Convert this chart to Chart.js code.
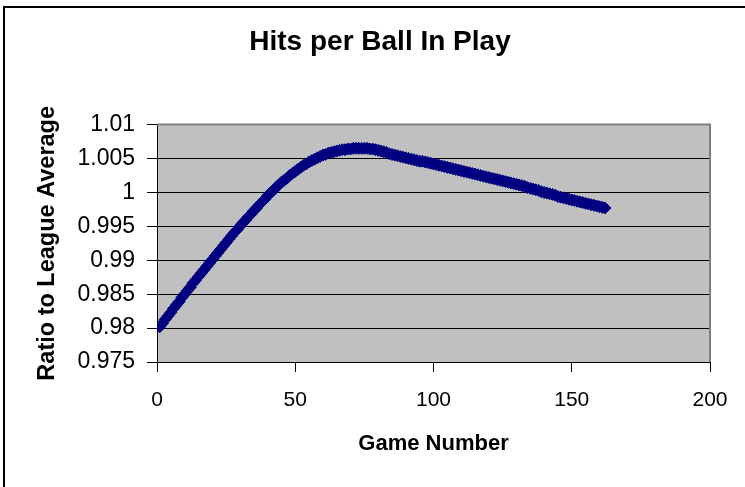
<!DOCTYPE html>
<html>
<head>
<meta charset="utf-8">
<script src="https://cdn.jsdelivr.net/npm/chart.js@4.4.1/dist/chart.umd.min.js"></script>
<style>
  html, body { margin: 0; padding: 0; background: #fff; }
  #wrap { width: 745px; height: 487px; }
</style>
</head>
<body>
<div id="wrap"><canvas id="bipChart" width="745" height="487"></canvas></div>
<script>
// Hits per ball in play, ratio to league average, game by game
const ratios = [
  0.9802, 0.9807, 0.9813, 0.9818, 0.9823, 0.9829, 0.9834, 0.9839, 0.9845, 0.9850,
  0.9855, 0.9860, 0.9866, 0.9871, 0.9876, 0.9881, 0.9886, 0.9891, 0.9896, 0.9901,
  0.9906, 0.9911, 0.9916, 0.9921, 0.9926, 0.9931, 0.9936, 0.9941, 0.9945, 0.9950,
  0.9955, 0.9959, 0.9964, 0.9968, 0.9973, 0.9977, 0.9982, 0.9986, 0.9990, 0.9995,
  0.9999, 1.0003, 1.0007, 1.0011, 1.0015, 1.0018, 1.0021, 1.0025, 1.0028, 1.0031,
  1.0034, 1.0037, 1.0040, 1.0042, 1.0045, 1.0047, 1.0049, 1.0051, 1.0053, 1.0055,
  1.0056, 1.0058, 1.0059, 1.0060, 1.0061, 1.0062, 1.0063, 1.0063, 1.0064, 1.0064,
  1.0065, 1.0065, 1.0065, 1.0065, 1.0065, 1.0065, 1.0064, 1.0064, 1.0063, 1.0062,
  1.0061, 1.0060, 1.0059, 1.0057, 1.0056, 1.0055, 1.0054, 1.0053, 1.0052, 1.0051,
  1.0050, 1.0049, 1.0048, 1.0047, 1.0046, 1.0046, 1.0045, 1.0044, 1.0043, 1.0042,
  1.0041, 1.0040, 1.0039, 1.0038, 1.0037, 1.0036, 1.0035, 1.0034, 1.0033, 1.0032,
  1.0031, 1.0030, 1.0029, 1.0028, 1.0027, 1.0026, 1.0025, 1.0024, 1.0023, 1.0022,
  1.0021, 1.0020, 1.0019, 1.0018, 1.0017, 1.0016, 1.0015, 1.0014, 1.0013, 1.0012,
  1.0011, 1.0010, 1.0009, 1.0007, 1.0006, 1.0005, 1.0004, 1.0003, 1.0001, 1.0000,
  0.9999, 0.9998, 0.9997, 0.9996, 0.9994, 0.9993, 0.9992, 0.9991, 0.9990, 0.9989,
  0.9988, 0.9987, 0.9986, 0.9985, 0.9984, 0.9983, 0.9982, 0.9981, 0.9980, 0.9979,
  0.9978, 0.9977
];
const games = ratios.map((_, i) => i + 1);

const xTicks = [0, 50, 100, 150, 200];
const yTicks = [0.975, 0.98, 0.985, 0.99, 0.995, 1, 1.005, 1.01];

Chart.defaults.font.family = '"Liberation Sans", Arial, sans-serif';
Chart.defaults.color = '#000';

// white page, outer frame and the grey plot area
const plotFrame = {
  id: 'plotFrame',
  beforeDraw(chart) {
    const { ctx, chartArea: a } = chart;
    ctx.save();
    ctx.fillStyle = '#fff';
    ctx.fillRect(0, 0, chart.width, chart.height);
    ctx.strokeStyle = '#000';
    ctx.lineWidth = 2;
    ctx.strokeRect(4, 7, chart.width + 10, chart.height + 10);
    ctx.fillStyle = '#c0c0c0';
    ctx.fillRect(a.left, a.top, a.right - a.left, a.bottom - a.top);
    ctx.restore();
  },
  beforeDatasetsDraw(chart) {
    const { ctx, chartArea: a } = chart;
    ctx.save();
    ctx.strokeStyle = '#808080';
    ctx.lineWidth = 2;
    ctx.beginPath();
    ctx.moveTo(a.left, a.top);
    ctx.lineTo(a.right, a.top);
    ctx.lineTo(a.right, a.bottom);
    ctx.stroke();
    ctx.restore();
  }
};

new Chart(document.getElementById('bipChart'), {
  type: 'scatter',
  data: {
    datasets: [{
      label: 'Ratio',
      data: games.map((g, i) => ({ x: g, y: ratios[i] })),
      pointStyle: 'rectRot',
      pointRadius: 6,
      pointBackgroundColor: '#000080',
      pointBorderColor: '#000080',
      pointBorderWidth: 1,
      showLine: false
    }]
  },
  options: {
    responsive: false,
    animation: false,
    devicePixelRatio: 1,
    layout: { padding: { left: 50, right: 35, top: 0, bottom: 0 } },
    plugins: {
      legend: { display: false },
      tooltip: { enabled: false },
      title: {
        display: true,
        text: 'Hits per Ball In Play',
        font: { size: 28, weight: 'bold' },
        padding: { top: 25, bottom: 66 }
      }
    },
    scales: {
      x: {
        type: 'linear',
        min: 0,
        max: 200,
        afterBuildTicks: s => { s.ticks = xTicks.map(v => ({ value: v })); },
        afterFit: s => { s.height = 125; },
        ticks: { font: { size: 21 }, padding: 16, maxRotation: 0 },
        grid: { drawOnChartArea: false, tickLength: 10, color: '#000', tickColor: '#000' },
        border: { color: '#000', width: 1 },
        title: {
          display: true,
          text: 'Game Number',
          font: { size: 22, weight: 'bold' },
          padding: { top: 0, bottom: 30 }
        }
      },
      y: {
        type: 'linear',
        min: 0.975,
        max: 1.01,
        afterBuildTicks: s => { s.ticks = yTicks.map(v => ({ value: v })); },
        afterFit: s => { s.width = 107; },
        ticks: {
          font: { size: 23 },
          padding: 12,
          callback: v => String(parseFloat(Number(v).toFixed(4)))
        },
        grid: { color: '#000', tickColor: '#000', tickLength: 10, lineWidth: 1 },
        border: { color: '#000', width: 1 },
        title: {
          display: true,
          text: 'Ratio to League Average',
          font: { size: 23.5, weight: 'bold' },
          padding: { top: -17, bottom: 0 }
        }
      }
    }
  },
  plugins: [plotFrame]
});
</script>
</body>
</html>
